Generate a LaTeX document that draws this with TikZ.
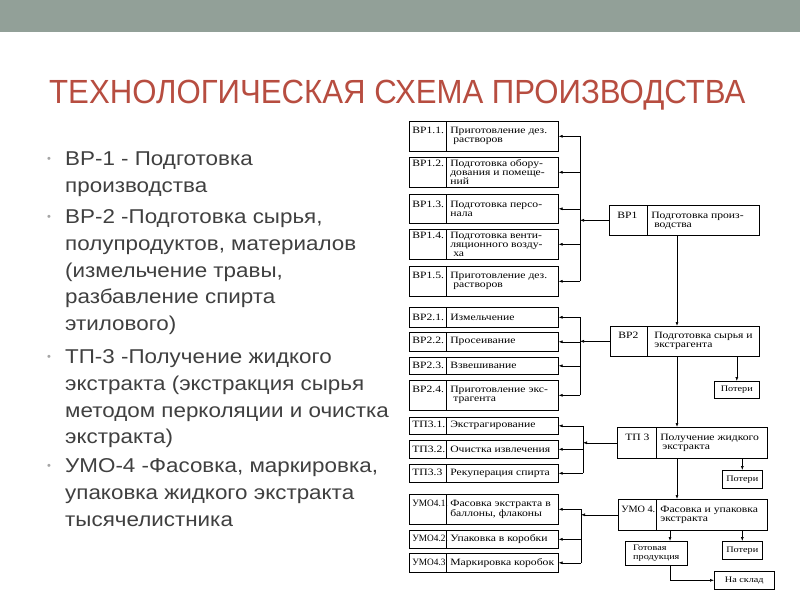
\documentclass[tikz,border=0pt]{standalone}
\usepackage{fontspec}
\setmainfont{Liberation Sans}
\newfontfamily\titlefont[FakeStretch=0.93]{Liberation Sans}
\newfontfamily\listfont[FakeStretch=1.12]{Liberation Sans}
\newfontfamily\schemefont[FakeStretch=1.2]{Liberation Serif}
\usepackage{tikz}
\usetikzlibrary{arrows.meta, positioning}
\definecolor{topbar}{RGB}{146,160,152}
\definecolor{titlered}{RGB}{183,77,64}
\definecolor{listgray}{RGB}{64,64,64}
\definecolor{bulletgray}{RGB}{165,165,165}

\begin{document}
\begin{tikzpicture}[x=1pt, y=-1pt,
	box/.style={draw, line width=0.6pt, anchor=north west, inner sep=0pt, font=\schemefont\fontsize{9.7}{9}\selectfont},
	small/.style={box, align=left, inner xsep=3pt, font=\schemefont\fontsize{8.5}{9}\selectfont},
	listtext/.style={anchor=north west, inner sep=0pt, align=left, text=listgray, font=\listfont\fontsize{20}{26.7}\selectfont},
	arr/.style={-{Latex[length=4pt,width=3pt]}, line width=0.6pt},
	link/.style={line width=0.6pt}]

\newcommand{\narrow}[1]{\scalebox{0.8}[1]{#1}}

% name, x, y, width, height, code width, code, text
\newcommand{\procstep}[8]{%
	\node[box, minimum width=#4, minimum height=#5] (#1) at (#2,#3) {\makebox[#6pt][l]{\hspace{2pt}#7}\hspace{3pt}\parbox[t]{\dimexpr#4pt-#6pt-5pt\relax}{\raggedright#8}};
	\draw[link] (#1.north west) ++(#6,0) -- ++(0,#5); % divider
}

% main step, bar x, first, last, list
\newcommand{\fanout}[5]{%
	\coordinate (#1bar) at (#2,0);
	\draw[link] (#3.east -| #1bar) -- (#4.east -| #1bar);
	\foreach \s in {#5} {
		\draw[arr] (\s.east -| #1bar) -- (\s.east);
	}
	\draw[arr] (#1.west) -- (#1.west -| #1bar);
}

\useasboundingbox[fill=white] (0,0) rectangle (800,600);
\fill[topbar] (0,0) rectangle (800,32); % top bar

\node[anchor=base west, inner sep=0pt, text=titlered, font=\titlefont\fontsize{33.5}{36}\selectfont] (title) at (49,103) {ТЕХНОЛОГИЧЕСКАЯ СХЕМА ПРОИЗВОДСТВА};

% bullet list
\foreach \y in {160, 218, 358, 467} {
	\node[text=bulletgray, inner sep=0pt, font=\fontsize{11}{11}\selectfont] (dot\y) at (49,\y) {•};
}
\node[listtext] (p1) at (65,151.5) {ВР-1 - Подготовка\\производства};
\node[listtext] (p2) at (65,209.5) {ВР-2 -Подготовка сырья,\\полупродуктов, материалов\\(измельчение травы,\\разбавление спирта\\этилового)};
\node[listtext] (p3) at (65,349.5) {ТП-3 -Получение жидкого\\экстракта (экстракция сырья\\методом перколяции и очистка\\экстракта)};
\node[listtext] (p4) at (65,458.5) {УМО-4 -Фасовка, маркировка,\\упаковка жидкого экстракта\\тысячелистника};

% sub steps
\procstep{bp11}{409}{121}{149}{30}{37}{ВР1.1.}{Приготовление дез.\\\hspace*{3pt}растворов}
\procstep{bp12}{409}{157}{149}{30}{37}{ВР1.2.}{Подготовка обору-\\дования и помеще-\\ний}
\procstep{bp13}{409}{194}{149}{29}{37}{ВР1.3.}{Подготовка персо-\\нала}
\procstep{bp14}{409}{229}{149}{30}{37}{ВР1.4.}{Подготовка венти-\\ляционного возду-\\\hspace*{3pt}ха}
\procstep{bp15}{409}{266}{149}{30}{37}{ВР1.5.}{Приготовление дез.\\\hspace*{3pt}растворов}
\procstep{bp21}{409}{307}{149}{20}{37}{ВР2.1.}{Измельчение}
\procstep{bp22}{409}{332}{149}{19}{37}{ВР2.2.}{Просеивание}
\procstep{bp23}{409}{357}{149}{17}{37}{ВР2.3.}{Взвешивание}
\procstep{bp24}{409}{380}{149}{30}{37}{ВР2.4.}{Приготовление экс-\\\hspace*{3pt}трагента}
\procstep{tp31}{409}{417}{149}{17}{37}{ТП3.1.}{Экстрагирование}
\procstep{tp32}{409}{440}{149}{18}{37}{ТП3.2.}{Очистка извлечения}
\procstep{tp33}{409}{464}{149}{18}{37}{ТП3.3}{Рекуперация спирта}
\procstep{umo41}{409}{494}{149}{30}{37}{\narrow{УМО4.1.}}{Фасовка экстракта в\\баллоны, флаконы}
\procstep{umo42}{409}{530}{149}{18}{37}{\narrow{УМО4.2.}}{Упаковка в коробки}
\procstep{umo43}{409}{553}{149}{19}{37}{\narrow{УМО4.3}}{Маркировка коробок}

% main steps
\procstep{bp1}{609}{205}{150}{30}{38}{\hspace{5pt}ВР1}{Подготовка произ-\\\hspace*{3pt}водства}
\procstep{bp2}{610}{326}{149}{30}{37}{\hspace{5pt}ВР2}{\hspace*{3pt}Подготовка сырья и\\\hspace*{3pt}экстрагента}
\procstep{tp3}{617}{427}{150}{31}{39}{\hspace{5pt}ТП 3}{Получение жидкого\\\hspace*{2pt}экстракта}
\procstep{umo4}{618}{499}{149}{31}{38}{\scalebox{0.88}[1]{УМО\ 4.}}{Фасовка и упаковка\\экстракта}

\node[small, minimum width=45, minimum height=17] (loss1) at (714,381) {Потери};
\node[small, minimum width=40, minimum height=18] (loss2) at (722,470) {Потери};
\node[small, minimum width=40, minimum height=18] (loss3) at (722,541) {Потери};
\node[small, minimum width=62, minimum height=24] (ready) at (625,541) {Готовая\\продукция};
\node[small, minimum width=60, minimum height=18] (store) at (714,571) {На склад};

% main line
\coordinate (spine) at (677,0);
\draw[arr] (bp1.south -| spine) -- (bp2.north -| spine);
\draw[arr] (bp2.south -| spine) -- (tp3.north -| spine);
\draw[arr] (tp3.south -| spine) -- (umo4.north -| spine);
\draw[arr] (bp2.south -| loss1) -- (loss1.north);
\draw[arr] (tp3.south -| loss2) -- (loss2.north);
\draw[arr] (umo4.south -| loss3) -- (loss3.north);
\coordinate (drop) at (670,0);
\draw[arr] (umo4.south -| drop) -- (ready.north -| drop);
\draw[arr] (ready.south -| drop) |- (store.west);

% fan out to sub steps
\fanout{bp1}{580}{bp11}{bp15}{bp11,bp12,bp13,bp14,bp15}
\fanout{bp2}{580}{bp21}{bp24}{bp21,bp22,bp23,bp24}
\fanout{tp3}{583}{tp31}{tp33}{tp31,tp32,tp33}
\fanout{umo4}{581}{umo41}{umo43}{umo41,umo42,umo43}

\end{tikzpicture}
\end{document}
